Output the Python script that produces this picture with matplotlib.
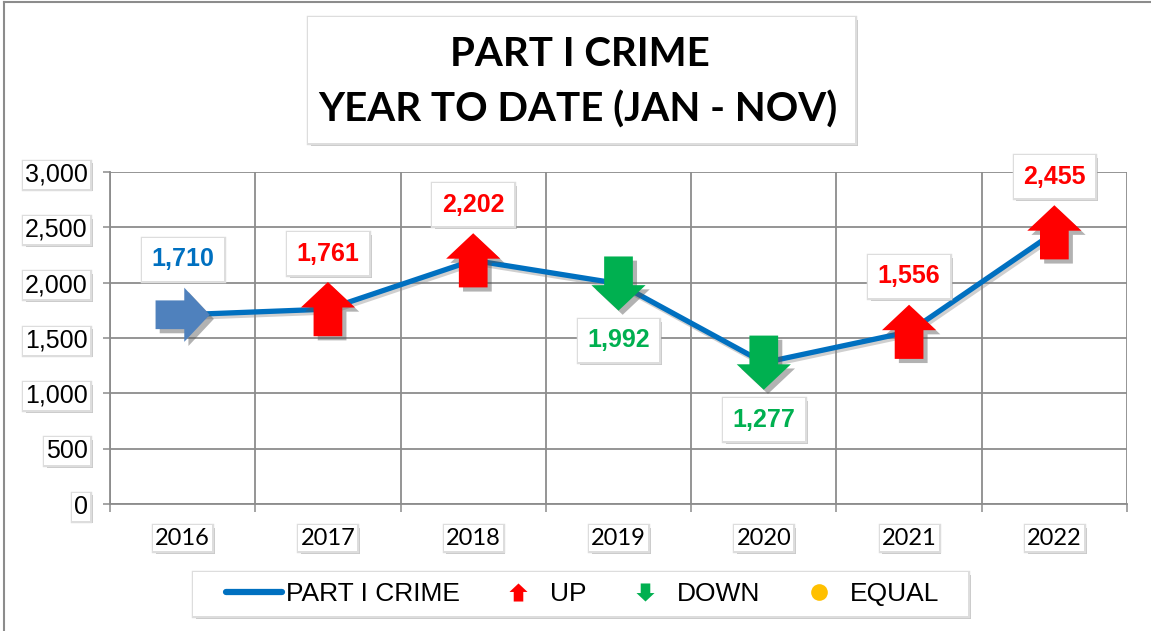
import matplotlib
matplotlib.use("Agg")
import matplotlib.pyplot as plt
import matplotlib.patheffects as pe
from matplotlib.path import Path
from matplotlib.lines import Line2D
from matplotlib.patches import Rectangle
import numpy as np

# ---- data ----
years = ["2016", "2017", "2018", "2019", "2020", "2021", "2022"]
crimes = [1710, 1761, 2202, 1992, 1277, 1556, 2455]
yticks = [0, 500, 1000, 1500, 2000, 2500, 3000]
title_lines = ["PART I CRIME", "YEAR TO DATE (JAN - NOV)"]
legend_labels = ["PART I CRIME", "UP", "DOWN", "EQUAL"]

# ---- styles ----
W, H = 1151, 631
LINE_BLUE = "#0070C0"
ARROW_BLUE = "#4F81BD"
RED = "#FF0000"
GREEN = "#00B050"
YELLOW = "#FFC000"
GRID = "#8C8C8C"

def fx(x):
    return x / W

def fy(y):
    return 1 - y / H

def shadow_fx():
    return [pe.withSimplePatchShadow(offset=(2, -2), shadow_rgbFace="#777777", alpha=0.4),
            pe.Stroke(linewidth=2.5, foreground="#dddddd"),
            pe.Normal()]

# arrow marker paths (centered, unit box)
hw, sw, hb = 0.5, 0.265, 0.03
up_verts = [(0, 0.5), (hw, hb), (sw, hb), (sw, -0.5), (-sw, -0.5), (-sw, hb), (-hw, hb), (0, 0.5)]
codes = [Path.MOVETO] + [Path.LINETO] * 6 + [Path.CLOSEPOLY]
up_path = Path(up_verts, codes)
down_path = Path([(vx, -vy) for vx, vy in up_verts], codes)
right_path = Path([(vy, -vx) for vx, vy in up_verts], codes)

fig = plt.figure(figsize=(W / 100, H / 100), dpi=100)
fig.patch.set_facecolor("white")

# figure border (left and top)
fig.add_artist(Line2D([fx(3.5), fx(3.5)], [0, fy(2)], color="#8c8c8c", lw=1.5))
fig.add_artist(Line2D([fx(3.5), 1], [fy(2), fy(2)], color="#8c8c8c", lw=1.5))

ax = fig.add_axes([fx(110), fy(504), fx(1127) - fx(110), fy(172) - fy(504)])
x = np.arange(len(years))
ax.set_xlim(-0.5, len(years) - 0.5)
ax.set_ylim(0, 3000)

# grid & spines
ax.set_yticks(yticks)
ax.set_yticklabels([f"{v:,}" for v in yticks])
ax.set_xticks(x)
ax.set_xticklabels(years)
ax.set_xticks(np.arange(-0.5, len(years), 1.0), minor=True)
ax.grid(axis="y", which="major", color=GRID, lw=1.3)
ax.grid(axis="x", which="minor", color=GRID, lw=1.3)
ax.grid(axis="x", which="major", visible=False)
for s in ["top", "right"]:
    ax.spines[s].set_visible(False)
for s in ["left", "bottom"]:
    ax.spines[s].set_color(GRID)
    ax.spines[s].set_linewidth(1.3)
ax.set_axisbelow(True)

ax.tick_params(axis="y", length=5, width=1.1, color=GRID, pad=11)
ax.tick_params(axis="x", which="major", length=0, pad=17)
ax.tick_params(axis="x", which="minor", length=6, width=1.1, color=GRID)

for lab in ax.get_yticklabels():
    lab.set_fontfamily("Liberation Sans")
    lab.set_fontsize(18)
    lab.set_bbox(dict(facecolor="white", edgecolor="none", pad=1.5))
    lab.get_bbox_patch().set_path_effects(shadow_fx())
for lab in ax.get_xticklabels():
    lab.set_fontfamily("Lato")
    lab.set_fontsize(17)
    lab.set_bbox(dict(facecolor="white", edgecolor="none", pad=1.5))
    lab.get_bbox_patch().set_path_effects(shadow_fx())

# main line
ax.plot(x, crimes, color=LINE_BLUE, lw=3.8, solid_capstyle="round", zorder=3,
        path_effects=[pe.SimpleLineShadow(offset=(1.5, -2), shadow_color="#888888", alpha=0.4), pe.Normal()])

# trend markers
trend = ["first"] + ["up" if crimes[i] > crimes[i - 1] else ("down" if crimes[i] < crimes[i - 1] else "equal")
                     for i in range(1, len(crimes))]
mk_fx = [pe.SimplePatchShadow(offset=(3, -3), shadow_rgbFace="#555555", alpha=0.45), pe.Normal()]
for i, t in enumerate(trend):
    if t == "first":
        m, c, col = right_path, ARROW_BLUE, LINE_BLUE
    elif t == "up":
        m, c, col = up_path, RED, RED
    elif t == "down":
        m, c, col = down_path, GREEN, GREEN
    else:
        m, c, col = "o", YELLOW, YELLOW
    ax.plot([x[i]], [crimes[i]], marker=m, markersize=39, color=c, markeredgewidth=0,
            linestyle="none", zorder=4, path_effects=mk_fx)
    dy = -41 if t == "down" else 40
    ann = ax.annotate(f"{crimes[i]:,}", (x[i], crimes[i]), xytext=(0, dy), textcoords="offset points",
                      ha="center", va="center", fontsize=18, fontweight="bold", color=col,
                      family="Liberation Sans", zorder=5,
                      bbox=dict(facecolor="white", edgecolor="none", boxstyle="square,pad=0.38"))
    ann.get_bbox_patch().set_path_effects(shadow_fx())

# title box
tb = Rectangle((fx(308), fy(143)), fx(855) - fx(308), fy(17) - fy(143), transform=fig.transFigure,
               facecolor="white", edgecolor="none", zorder=2)
tb.set_path_effects(shadow_fx())
fig.add_artist(tb)
fig.text(fx(580), fy(54), title_lines[0], ha="center", va="center", fontsize=29, fontweight="bold",
         family="Lato", zorder=3)
fig.text(fx(578), fy(110), title_lines[1], ha="center", va="center", fontsize=29, fontweight="bold",
         family="Lato", zorder=3)

# legend box
lb = Rectangle((fx(193), fy(616)), fx(968) - fx(193), fy(572) - fy(616), transform=fig.transFigure,
               facecolor="white", edgecolor="none", zorder=2)
lb.set_path_effects(shadow_fx())
fig.add_artist(lb)

handles = [
    Line2D([], [], color=LINE_BLUE, lw=4.5, solid_capstyle="round"),
    Line2D([], [], marker=up_path, color=RED, linestyle="none", markersize=13, markeredgewidth=0),
    Line2D([], [], marker=down_path, color=GREEN, linestyle="none", markersize=13, markeredgewidth=0),
    Line2D([], [], marker="o", color=YELLOW, linestyle="none", markersize=12, markeredgewidth=0),
]
leg = fig.legend(handles, legend_labels, loc="center", bbox_to_anchor=(fx(583), fy(594)), ncol=4,
                 frameon=False, prop={"family": "Liberation Sans", "size": 19}, handlelength=2.1,
                 handletextpad=0.15, columnspacing=1.17, borderpad=0.2, borderaxespad=0)
leg.set_zorder(3)

fig.savefig("out.png", dpi=100)
